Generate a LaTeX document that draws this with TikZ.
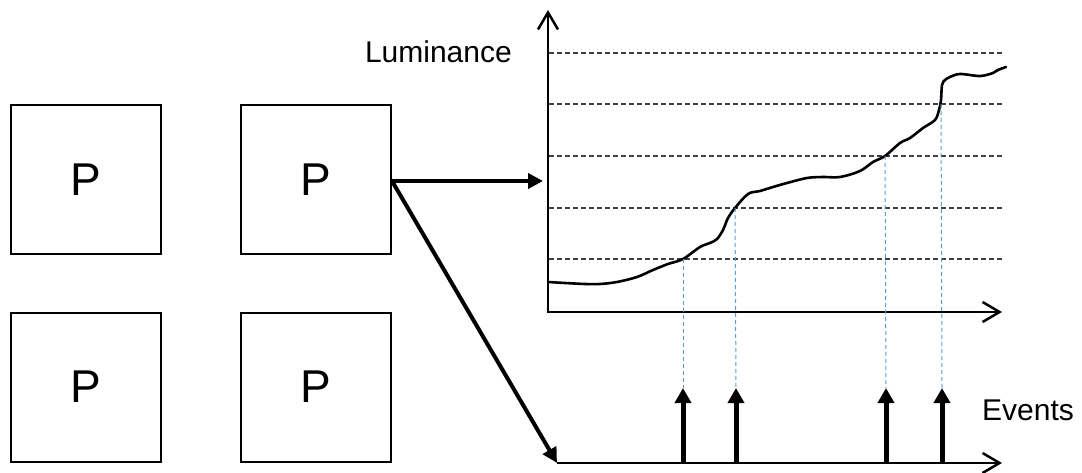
\documentclass[tikz,border=0pt]{standalone}
\usepackage{fontspec}
\setmainfont{Liberation Sans}
\usetikzlibrary{arrows.meta}
\definecolor{gridgray}{HTML}{404040}
\definecolor{eventblue}{HTML}{5B9BD5}
\tikzset{
  pbox/.style={draw=black, line width=2pt, minimum width=150pt, minimum height=149pt,
    inner sep=0pt, font=\fontsize{46}{50}\selectfont},
  axis/.style={line width=2.5pt, -{Straight Barb[length=17pt,width=20pt,line width=2.5pt]}},
  level/.style={draw=gridgray, line width=1.3pt, dash pattern=on 5pt off 3pt},
  trace/.style={draw=eventblue, line width=1pt, dash pattern=on 4pt off 3pt},
  feed/.style={line width=4pt, -{Triangle[length=15pt,width=15pt]}},
  event/.style={line width=5pt, -{Triangle[length=15pt,width=16pt]}},
  label/.style={font=\fontsize{30}{34}\selectfont, inner sep=0pt},
  curve/.style={line width=2.6pt, line join=round, line cap=round}
}
\begin{document}
\begin{tikzpicture}[x=1pt, y=-1pt]
\useasboundingbox (0,0) rectangle (1082,473);

% pixel boxes
\node[pbox] (p1) at (86,179.5) {P};
\node[pbox] (p2) at (316,179.5) {P};
\node[pbox] (p3) at (86,387) {P};
\node[pbox] (p4) at (316,387) {P};

% luminance plot axes
\coordinate (org) at (548,312);
\coordinate (ytop) at (548,10);
\coordinate (xend) at (1002,312);
\draw[axis] (org) -- (ytop);
\draw[axis] ([xshift=-1.25pt]org) -- (xend);
\node[label, anchor=base east] (lum) at (512,63) {Luminance};

% threshold levels
\foreach \y in {53,104,156,208,259}
  \draw[level] (549,\y) -- (1003,\y);

% luminance curve
\draw[curve] plot[smooth, tension=0.55] coordinates {
  (548,282) (565,283) (585,284) (600,284) (617,282) (637,277) (653,270)
  (668,264) (683,259) (700,247) (710,243) (717,239) (723,230) (728,218)
  (735,208) (748,194) (760,191) (773,187) (787,183) (807,178) (823,177)
  (840,177) (860,171) (873,162) (885,156) (900,143) (910,138) (923,128)
  (935,120) (939,110) (941,100) (942,85) (945,80) (950,77) (960,74)
  (980,76) (993,73) (998,70) (1006,67)};

% level crossings
\coordinate (c1) at (683,259);
\coordinate (c2) at (735,208);
\coordinate (c3) at (885,156);
\coordinate (c4) at (941,104);

% event axis
\coordinate (eorg) at (557,463);
\coordinate (eend) at (1002,463);
\draw[axis] (eorg) -- (eend);
\node[label, anchor=base west] (ev) at (982,420) {Events};

% events and their traces
\foreach \i/\x in {1/683,2/736,3/886,4/942}{
  \coordinate (eb\i) at (\x,463);
  \coordinate (et\i) at (\x,388);
  \draw[event] (eb\i) -- (et\i);
}
\draw[trace] (c1) -- (et1);
\draw[trace] (c2) -- (et2);
\draw[trace] (c3) -- (et3);
\draw[trace] (c4) -- (et4);

% connectors from the pixel
\coordinate (lumin) at (543,181);
\draw[feed] (p2.east |- lumin) -- (lumin);
\draw[feed] (p2.east |- lumin) -- (eorg);
\end{tikzpicture}
\end{document}
